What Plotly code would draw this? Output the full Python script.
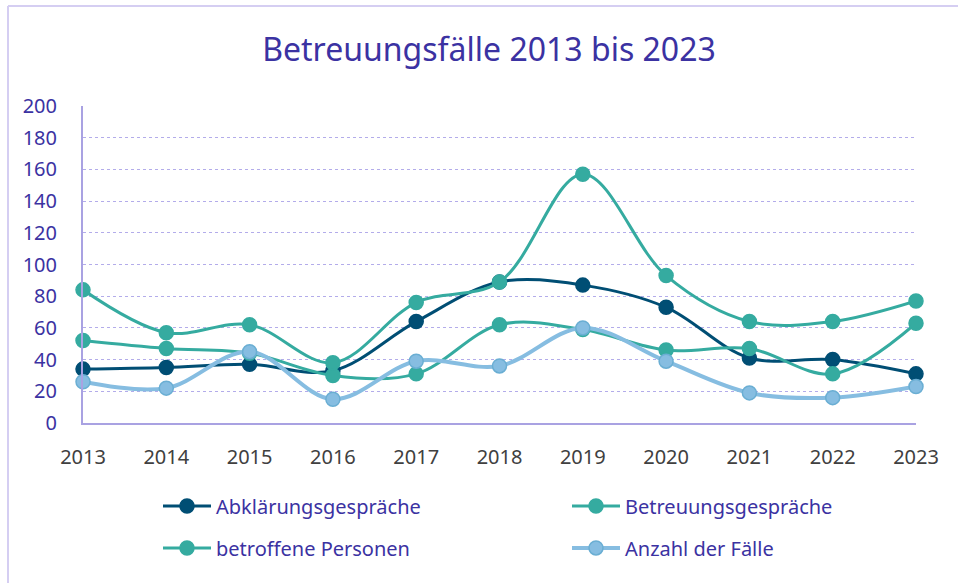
import plotly.graph_objects as go

years = [2013, 2014, 2015, 2016, 2017, 2018, 2019, 2020, 2021, 2022, 2023]
abklaerung = [34, 35, 37, 33, 64, 89, 87, 73, 41, 40, 31]
betreuung = [52, 47, 44, 30, 31, 62, 59, 46, 47, 31, 63]
betroffene = [84, 57, 62, 38, 76, 89, 157, 93, 64, 64, 77]
anzahl = [26, 22, 45, 15, 39, 36, 60, 39, 19, 16, 23]
y_ticks = list(range(0, 201, 20))

TXT = "#3B32A2"
FONT = "Noto Sans"

fig = go.Figure()

def add(name, vals, color, legend, group, lw=3, mline=None):
    fig.add_trace(go.Scatter(
        x=years, y=vals, name=name, mode="lines+markers",
        line=dict(color=color, width=lw, shape="spline", smoothing=1.0),
        marker=dict(size=14, color=color,
                    line=dict(color=mline or color, width=1.5)),
        cliponaxis=False, legend=legend, legendgroup=group,
    ))

add("Abklärungsgespräche", abklaerung, "#004E74", "legend", "a")
add("Betreuungsgespräche", betreuung, "#35ABA0", "legend2", "b")
add("betroffene Personen", betroffene, "#35ABA0", "legend", "c")
add("Anzahl der Fälle", anzahl, "#86BDE1", "legend2", "d", lw=4, mline="#6AAED3")

leg_common = dict(orientation="v", yanchor="top", y=-0.2,
                  font=dict(family=FONT, size=20, color=TXT),
                  tracegroupgap=13, bgcolor="rgba(0,0,0,0)", itemwidth=48)

fig.update_layout(
    width=958, height=583,
    margin=dict(l=83, r=42, t=106, b=160, autoexpand=False),
    paper_bgcolor="white", plot_bgcolor="white",
    title=dict(text="Betreuungsfälle 2013 bis 2023", x=489 / 958, xref="container",
               xanchor="center", y=1 - 50 / 583, yanchor="middle",
               font=dict(family=FONT, size=32, color=TXT)),
    font=dict(family=FONT),
    showlegend=True,
    legend=dict(x=(158 - 83) / 833, xanchor="left", **leg_common),
    legend2=dict(x=(567 - 83) / 833, xanchor="left", **leg_common),
    xaxis=dict(range=[2013, 2023], tickvals=years, ticktext=[str(y) for y in years],
               showgrid=False, showline=True, linecolor="#A9A2E2", linewidth=2,
               ticks="", ticklabelstandoff=15, zeroline=False,
               tickfont=dict(family=FONT, size=20, color="#404040")),
    yaxis=dict(range=[0, 200], tickvals=y_ticks, showgrid=True,
               gridcolor="#B3ACEA", griddash="dot", gridwidth=1,
               showline=True, linecolor="#A9A2E2", linewidth=2,
               ticks="", ticklabelstandoff=20, zeroline=False,
               tickfont=dict(family=FONT, size=20, color=TXT)),
    shapes=[
        dict(type="line", xref="paper", yref="paper", x0=-75 / 833, x1=(958 - 83) / 833 + 0.1,
             y0=1 + 100 / 317, y1=1 + 100 / 317, line=dict(color="#D5CEF2", width=2)),
        dict(type="line", xref="paper", yref="paper", x0=-75 / 833, x1=-75 / 833,
             y0=1 + 100 / 317, y1=-160 / 317 - 0.1, line=dict(color="#D5CEF2", width=2)),
    ],
)

fig.write_html("out.html")
